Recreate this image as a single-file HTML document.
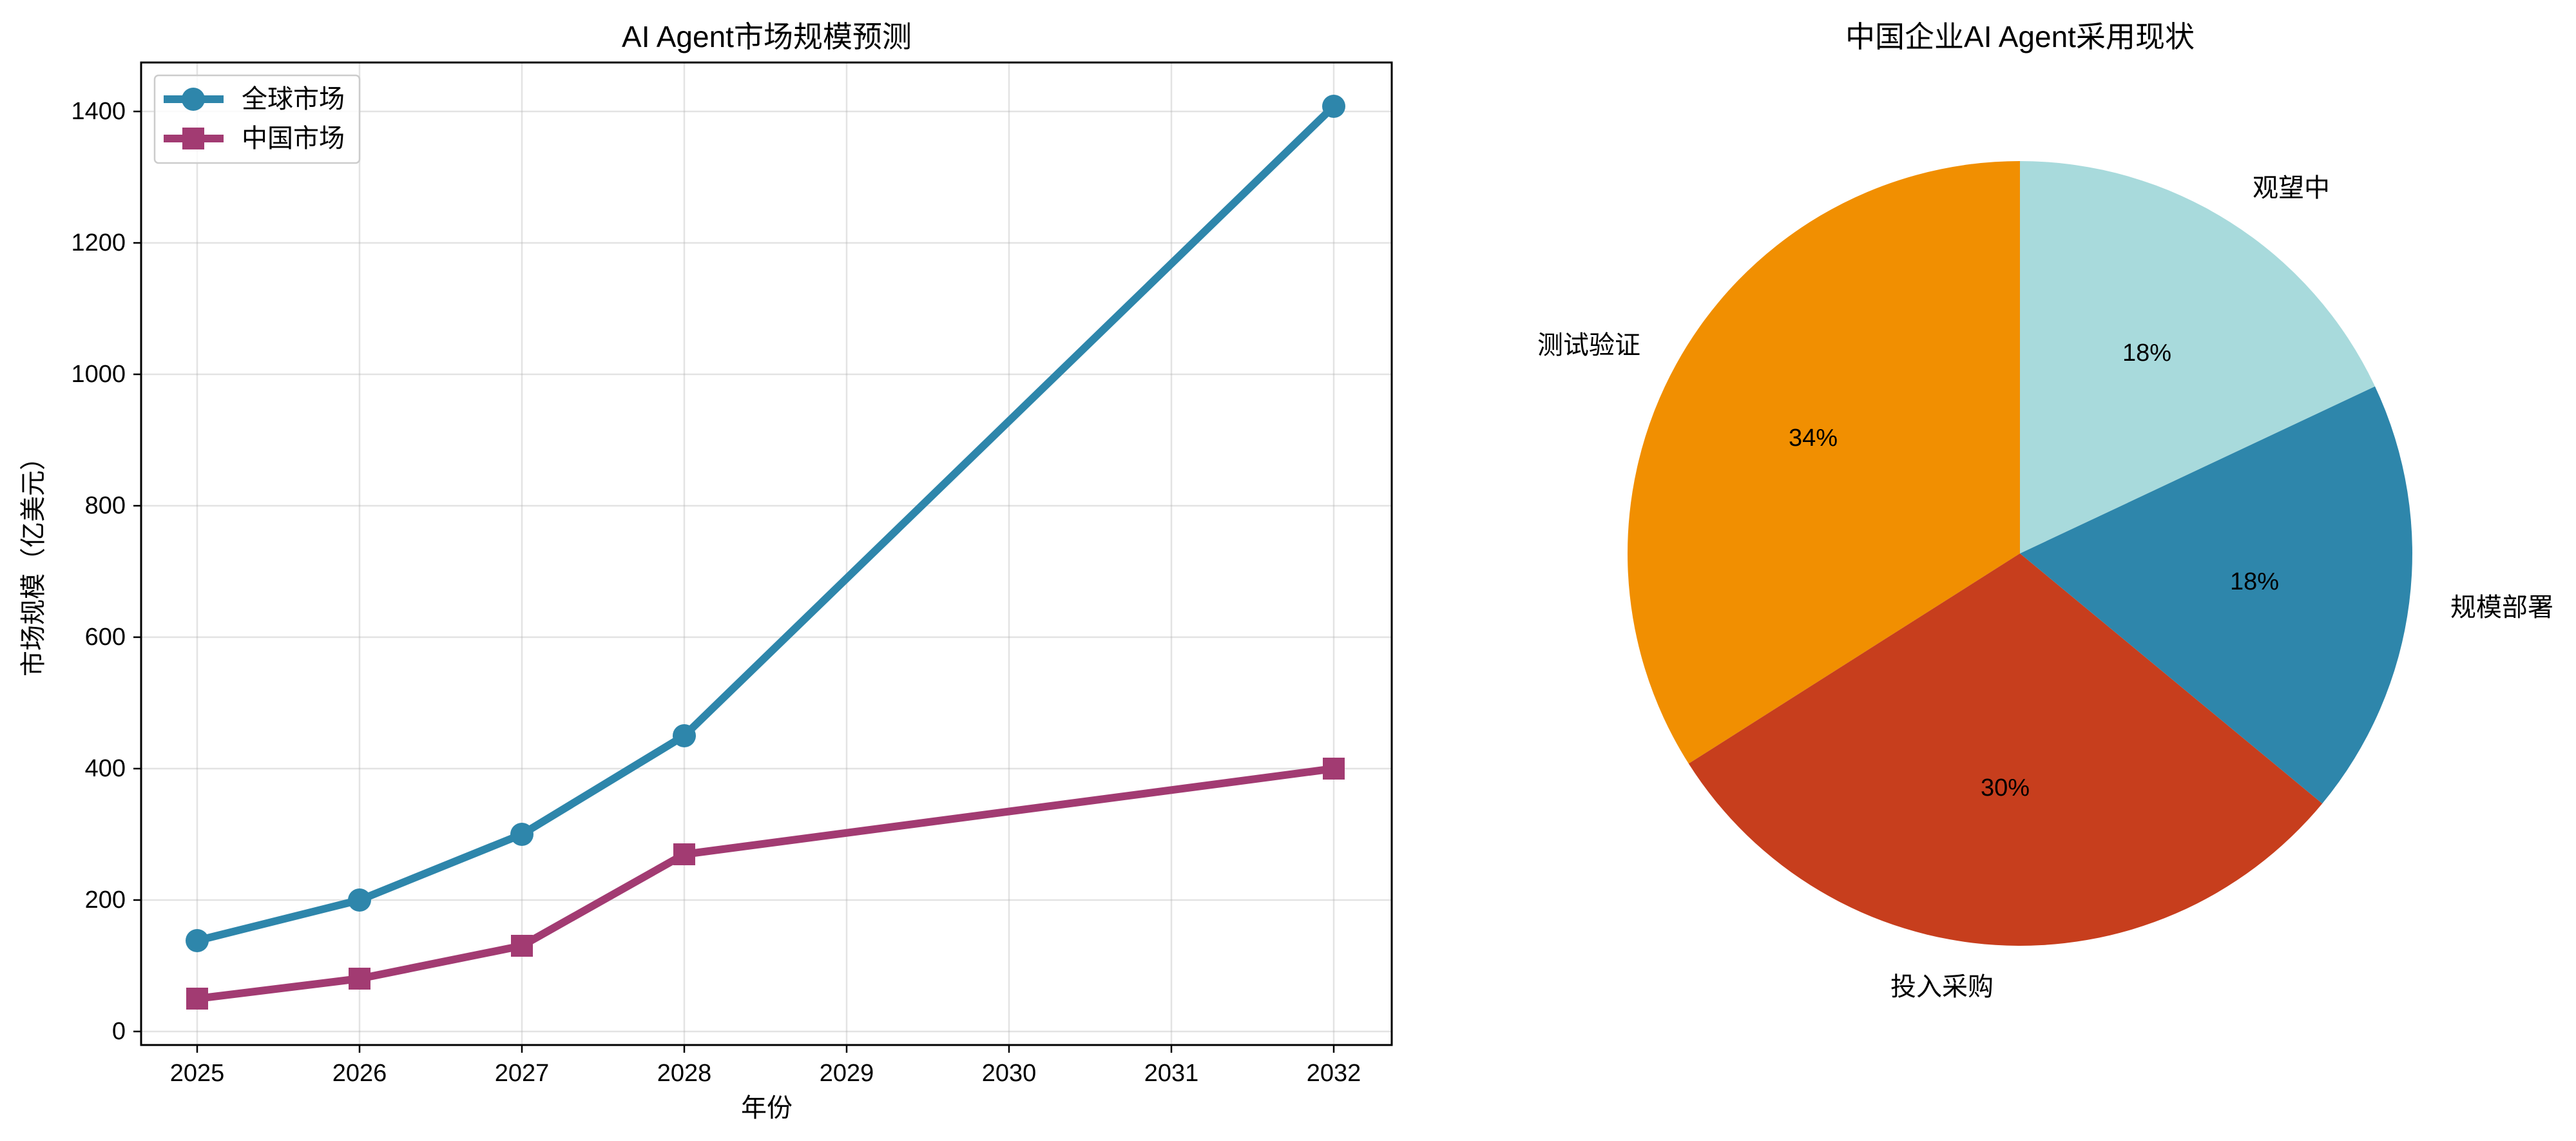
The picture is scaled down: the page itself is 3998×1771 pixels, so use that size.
<!DOCTYPE html>
<html><head><meta charset="utf-8"><style>
html,body{margin:0;padding:0;background:#fff}
svg{display:block}
text{font-family:"Liberation Sans","Noto Sans CJK SC",sans-serif;fill:#000}
</style></head><body>
<svg width="3998" height="1771" viewBox="0 0 3998 1771" xmlns="http://www.w3.org/2000/svg">
<rect width="3998" height="1771" fill="#fff"/>
<g stroke="#b0b0b0" stroke-opacity="0.35" stroke-width="2.5">
<line x1="219" x2="2160" y1="1601" y2="1601"/><line x1="219" x2="2160" y1="1397" y2="1397"/>
<line x1="219" x2="2160" y1="1193" y2="1193"/><line x1="219" x2="2160" y1="989" y2="989"/>
<line x1="219" x2="2160" y1="785" y2="785"/><line x1="219" x2="2160" y1="581" y2="581"/>
<line x1="219" x2="2160" y1="377" y2="377"/><line x1="219" x2="2160" y1="173" y2="173"/>
<line y1="97" y2="1622" x1="306" x2="306"/><line y1="97" y2="1622" x1="558" x2="558"/>
<line y1="97" y2="1622" x1="810" x2="810"/><line y1="97" y2="1622" x1="1062" x2="1062"/>
<line y1="97" y2="1622" x1="1314" x2="1314"/><line y1="97" y2="1622" x1="1566" x2="1566"/>
<line y1="97" y2="1622" x1="1818" x2="1818"/><line y1="97" y2="1622" x1="2070" x2="2070"/>
</g>
<g stroke="#000" stroke-width="2.5">
<line x1="207" x2="219" y1="1601" y2="1601"/><line x1="207" x2="219" y1="1397" y2="1397"/>
<line x1="207" x2="219" y1="1193" y2="1193"/><line x1="207" x2="219" y1="989" y2="989"/>
<line x1="207" x2="219" y1="785" y2="785"/><line x1="207" x2="219" y1="581" y2="581"/>
<line x1="207" x2="219" y1="377" y2="377"/><line x1="207" x2="219" y1="173" y2="173"/>
<line y1="1622" y2="1634" x1="306" x2="306"/><line y1="1622" y2="1634" x1="558" x2="558"/>
<line y1="1622" y2="1634" x1="810" x2="810"/><line y1="1622" y2="1634" x1="1062" x2="1062"/>
<line y1="1622" y2="1634" x1="1314" x2="1314"/><line y1="1622" y2="1634" x1="1566" x2="1566"/>
<line y1="1622" y2="1634" x1="1818" x2="1818"/><line y1="1622" y2="1634" x1="2070" x2="2070"/>
</g>
<g font-size="38" text-anchor="end" dominant-baseline="central">
<text x="195" y="1601">0</text><text x="195" y="1397">200</text><text x="195" y="1193">400</text>
<text x="195" y="989">600</text><text x="195" y="785">800</text><text x="195" y="581">1000</text>
<text x="195" y="377">1200</text><text x="195" y="173">1400</text>
</g>
<g font-size="38" text-anchor="middle" dominant-baseline="central">
<text x="306" y="1666">2025</text><text x="558" y="1666">2026</text><text x="810" y="1666">2027</text>
<text x="1062" y="1666">2028</text><text x="1314" y="1666">2029</text><text x="1566" y="1666">2030</text>
<text x="1818" y="1666">2031</text><text x="2070" y="1666">2032</text>
<text x="1190" y="1720" font-size="40">年份</text>
<text x="1190" y="57" font-size="46">AI Agent市场规模预测</text>
<text transform="translate(52 870) rotate(-90)" font-size="40">市场规模（亿美元）</text>
</g>
<polyline points="306,1550 558,1519 810,1468 1062,1326 2070,1193" fill="none" stroke="#A23B72" stroke-width="12" stroke-linejoin="round"/>
<g fill="#A23B72">
<rect x="289" y="1533" width="34" height="34"/><rect x="541" y="1502" width="34" height="34"/>
<rect x="793" y="1451" width="34" height="34"/><rect x="1045" y="1309" width="34" height="34"/>
<rect x="2053" y="1176" width="34" height="34"/>
</g>
<polyline points="306,1460 558,1397 810,1295 1062,1142 2070,165" fill="none" stroke="#2E86AB" stroke-width="12" stroke-linejoin="round"/>
<g fill="#2E86AB">
<circle cx="306" cy="1460" r="18"/><circle cx="558" cy="1397" r="18"/><circle cx="810" cy="1295" r="18"/>
<circle cx="1062" cy="1142" r="18"/><circle cx="2070" cy="165" r="18"/>
</g>
<rect x="219" y="97" width="1941" height="1525" fill="none" stroke="#000" stroke-width="3"/>
<rect x="240" y="117" width="318" height="136" rx="6" fill="#fff" fill-opacity="0.8" stroke="#ccc" stroke-width="2.5"/>
<line x1="254" x2="347" y1="154" y2="154" stroke="#2E86AB" stroke-width="12"/>
<circle cx="300" cy="154" r="18" fill="#2E86AB"/>
<line x1="254" x2="347" y1="215" y2="215" stroke="#A23B72" stroke-width="12"/>
<rect x="283" y="198" width="34" height="34" fill="#A23B72"/>
<g font-size="40" dominant-baseline="central">
<text x="375" y="154">全球市场</text><text x="375" y="215">中国市场</text>
</g>
<path d="M3135,859 L3135,250 A609,609 0 0 0 2620.8,1185.3 Z" fill="#F18F01"/>
<path d="M3135,859 L2620.8,1185.3 A609,609 0 0 0 3604.2,1247.2 Z" fill="#C73E1D"/>
<path d="M3135,859 L3604.2,1247.2 A609,609 0 0 0 3686,599.7 Z" fill="#2E86AB"/>
<path d="M3135,859 L3686,599.7 A609,609 0 0 0 3135,250 Z" fill="#A8DADC"/>
<g font-size="40" dominant-baseline="central">
<text x="3135" y="57" text-anchor="middle" font-size="46">中国企业AI Agent采用现状</text>
<text x="2546" y="536" text-anchor="end">测试验证</text>
<text x="3094" y="1532" text-anchor="end">投入采购</text>
<text x="3803" y="943">规模部署</text>
<text x="3496" y="292">观望中</text>
<g text-anchor="middle" font-size="38">
<text x="2814" y="680">34%</text><text x="3112" y="1223">30%</text>
<text x="3499" y="903">18%</text><text x="3332" y="548">18%</text>
</g>
</g>
</svg>
</body></html>
